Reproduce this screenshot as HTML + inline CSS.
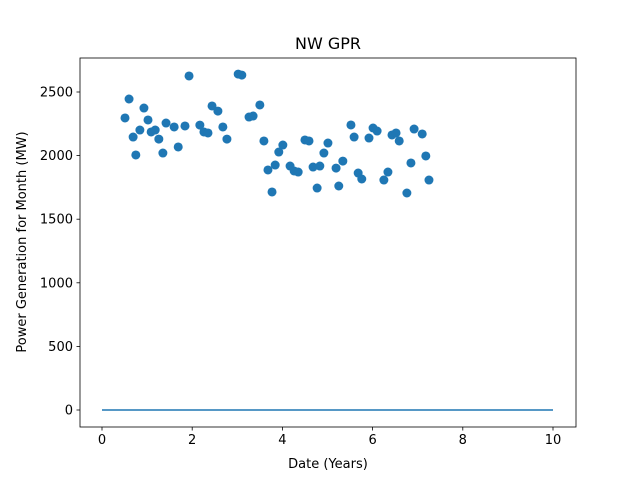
<!DOCTYPE html>
<html><head><meta charset="utf-8"><style>
body{margin:0;background:#fff;font-family:"Liberation Sans","DejaVu Sans",sans-serif;}
svg text{font-family:"DejaVu Sans","Liberation Sans",sans-serif;}
</style></head><body>
<svg id="chart" width="640" height="480" xmlns="http://www.w3.org/2000/svg">
<rect width="640" height="480" fill="#fff"/>
<text x="328" y="49" text-anchor="middle" font-size="16">NW GPR</text>
<g id="marks"></g>
<g id="axes"></g>
<text x="328" y="468" text-anchor="middle" font-size="13">Date (Years)</text>
<text transform="translate(26,242) rotate(-90)" text-anchor="middle" font-size="13">Power Generation for Month (MW)</text>
</svg>
<script>
const years = [0.51,0.60,0.69,0.75,0.84,0.93,1.02,1.09,1.18,1.26,1.35,1.42,1.60,1.69,1.84,1.93,2.17,2.26,2.35,2.44,2.57,2.68,2.77,3.02,3.10,3.26,3.35,3.50,3.59,3.68,3.77,3.84,3.92,4.01,4.17,4.26,4.35,4.50,4.59,4.68,4.77,4.83,4.92,5.01,5.19,5.25,5.34,5.52,5.59,5.68,5.76,5.92,6.01,6.10,6.25,6.34,6.43,6.52,6.59,6.76,6.85,6.92,7.10,7.18,7.25];
const power = [2296,2445,2146,2005,2201,2374,2280,2186,2201,2130,2020,2256,2225,2068,2233,2626,2240,2186,2178,2390,2350,2225,2130,2641,2633,2303,2311,2398,2115,1887,1714,1926,2028,2083,1918,1879,1871,2123,2115,1910,1745,1918,2020,2099,1902,1761,1957,2241,2146,1863,1816,2138,2217,2193,1808,1871,2162,2178,2115,1706,1942,2209,2170,1997,1808];
const lineX = [0,10];
const lineY = [0,0];
const xTicks = [0,2,4,6,8,10];
const yTicks = [0,500,1000,1500,2000,2500];

const L=80,R=576,T=58,B=427;
const sx = v => 102 + v*45.1;
const sy = v => 410 - v*0.1272;
const NS="http://www.w3.org/2000/svg";
const marks=document.getElementById('marks');
const axes=document.getElementById('axes');
function mk(tag,attrs,parent){const e=document.createElementNS(NS,tag);for(const k in attrs)e.setAttribute(k,attrs[k]);parent.appendChild(e);return e;}

years.forEach((x,i)=>{
  const c=mk('circle',{cx:sx(x),cy:sy(power[i]),r:4.5,fill:'#1f77b4'},marks);
  
  
});
const ln=mk('polyline',{points:lineX.map((x,i)=>sx(x)+','+sy(lineY[i])).join(' '),fill:'none',stroke:'#1f77b4','stroke-width':1.5},marks);



const fr=mk('rect',{x:L,y:T,width:R-L,height:B-T,fill:'none',stroke:'#000','stroke-width':0.8},axes);


xTicks.forEach(t=>{
  const x=sx(t);
  const tk=mk('line',{x1:x,x2:x,y1:B,y2:B+3.5,stroke:'#000','stroke-width':0.8},axes);
  
  
  const tx=mk('text',{x:x,y:B+17,'text-anchor':'middle','font-size':13},axes);
  tx.textContent=t;
  
  
});
yTicks.forEach(t=>{
  const y=sy(t);
  const tk=mk('line',{x1:L-3.5,x2:L,y1:y,y2:y,stroke:'#000','stroke-width':0.8},axes);
  
  
  const tx=mk('text',{x:L-7,y:y+4.5,'text-anchor':'end','font-size':13},axes);
  tx.textContent=t;
  
  
});
</script>
</body></html>
